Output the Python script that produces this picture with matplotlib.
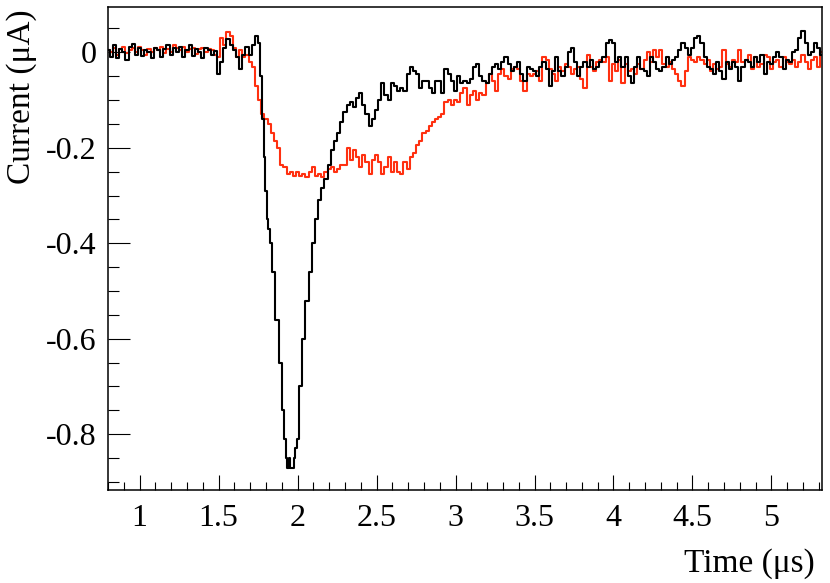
import numpy as np
import matplotlib
matplotlib.use("Agg")
import matplotlib.pyplot as plt
from matplotlib.ticker import MultipleLocator, FuncFormatter

# ---------------- data ----------------
# black trace: time grid pieces (us) and current (uA)
black_t_pre = np.round(np.arange(0.80, 1.761, 0.02), 2)
black_v_pre = [0.005, -0.01, 0.015, -0.012, 0.008, 0.0, -0.015, 0.012, 0.018, -0.005,
               0.01, -0.008, 0.005, 0.0, -0.012, 0.01, 0.005, -0.01, 0.008, 0.015,
               -0.005, 0.01, 0.0, 0.012, -0.01, 0.005, 0.015, -0.008, 0.008, 0.0,
               -0.012, 0.01, 0.005, -0.005, 0.002,
               -0.045, -0.02, 0.01, 0.028, 0.015, 0.005, -0.01, -0.035, -0.005, 0.012,
               -0.005, 0.015, 0.035, 0.02]
black_t_dip = [1.77, 1.78, 1.79, 1.80, 1.81, 1.82, 1.83, 1.85, 1.87, 1.89,
               1.91, 1.92, 1.93, 1.94, 1.95, 1.96, 1.97, 1.98, 1.99]
black_v_dip = [-0.05, -0.14, -0.22, -0.29, -0.35, -0.37, -0.40, -0.46, -0.56, -0.65,
               -0.75, -0.81, -0.85, -0.87, -0.85, -0.87, -0.87, -0.85, -0.83]
black_t_post = np.round(np.arange(2.00, 5.321, 0.02), 2)
black_v_post = [-0.81, -0.70, -0.60, -0.52, -0.46, -0.40, -0.35, -0.31, -0.285, -0.265,
                -0.235, -0.205, -0.185, -0.17, -0.145, -0.125, -0.11, -0.105, -0.115, -0.095,
                -0.085, -0.11, -0.13, -0.155, -0.14, -0.12, -0.10, -0.065, -0.09, -0.10,
                -0.065, -0.07, -0.08, -0.075, -0.08, -0.045, -0.03, -0.04, -0.045, -0.075,
                -0.06, -0.06, -0.075, -0.085, -0.06, -0.06, -0.085, -0.035, -0.045, -0.06,
                -0.08, -0.05, -0.065, -0.06, -0.065, -0.055, -0.03, -0.025, -0.05, -0.06,
                -0.065, -0.045, -0.03, -0.025, -0.035, -0.02, -0.01, -0.025, -0.04, -0.03,
                -0.02, -0.045, -0.06, -0.03, -0.035, -0.04, -0.05, -0.03, -0.02, -0.035,
                -0.07, -0.04, -0.01, -0.04, -0.05, -0.03, 0.0, 0.01, -0.02, -0.05,
                -0.03, -0.02, -0.03, -0.015, -0.035, -0.03, -0.02, -0.01, 0.02, 0.025,
                0.02, -0.02, -0.01, -0.03, -0.01, -0.05, -0.065, -0.03, -0.01, -0.035,
                -0.04, -0.05, -0.01, -0.02, -0.035, -0.04, -0.03, -0.01, -0.025, -0.015,
                -0.01, 0.005, 0.02, 0.01, -0.005, 0.01, 0.03, 0.035, 0.02, -0.01,
                -0.03, -0.035, -0.045, -0.02, -0.04, -0.055, -0.02, -0.035, -0.02, -0.03,
                -0.06, -0.03, -0.015, -0.02, -0.03, -0.01, -0.02, -0.005, -0.045, -0.02,
                -0.025, -0.01, 0.0, -0.01, -0.035, -0.015, -0.02, 0.0, 0.005, 0.03,
                0.045, 0.02, -0.005, 0.0, 0.02, 0.01, -0.005]

# red trace
red_t = np.round(np.arange(0.80, 5.321, 0.02), 2)
red_v = [0.005, 0.0, 0.01, -0.005, 0.008, 0.012, -0.002, 0.005, 0.01, 0.0,
         0.012, 0.005, -0.005, 0.008, 0.0, 0.01, 0.005, 0.012, -0.002, 0.008,
         0.0, 0.015, 0.01, 0.005, 0.012, 0.0, 0.008, 0.01, -0.003, 0.006,
         0.01, 0.0, 0.008, 0.004, -0.005,
         -0.01, 0.03, 0.015, 0.042, 0.035, 0.01, -0.01, 0.005, -0.01, -0.005,
         -0.02, -0.03, -0.07, -0.10, -0.13, -0.14, -0.15, -0.17, -0.185, -0.20,
         -0.235, -0.24, -0.255, -0.25, -0.26, -0.25, -0.26, -0.255, -0.262, -0.25,
         -0.24, -0.26, -0.255, -0.262, -0.25, -0.245, -0.24, -0.25, -0.245, -0.235,
         -0.235, -0.2, -0.225, -0.205, -0.22, -0.24, -0.215, -0.23, -0.255, -0.225,
         -0.215, -0.23, -0.255, -0.24, -0.22, -0.25, -0.23, -0.25, -0.255, -0.23,
         -0.245, -0.22, -0.21, -0.195, -0.185, -0.17, -0.165, -0.155, -0.145, -0.14,
         -0.135, -0.13, -0.105, -0.10, -0.11, -0.10, -0.105, -0.085, -0.075, -0.11,
         -0.09, -0.08, -0.10, -0.085, -0.09, -0.065, -0.045, -0.06, -0.08, -0.045,
         -0.035, -0.05, -0.055, -0.035, -0.03, -0.035, -0.06, -0.08, -0.045, -0.05,
         -0.045, -0.04, -0.06, -0.01, -0.015, -0.035, -0.045, -0.06, -0.03, -0.04,
         -0.025, -0.03, -0.045, -0.035, -0.03, -0.055, -0.075, -0.005, -0.03, -0.04,
         -0.02, -0.015, -0.02, -0.01, -0.06, -0.025, -0.04, -0.015, -0.065, -0.025,
         -0.04, -0.035, -0.045, -0.025, -0.035, -0.015, 0.0, -0.02, 0.005, -0.01,
         0.005, -0.025, -0.03, -0.02, -0.035, -0.045, -0.06, -0.07, -0.04, -0.01,
         -0.015, -0.02, -0.01, -0.015, -0.025, -0.015, -0.04, -0.025, -0.035, -0.03,
         0.005, -0.025, -0.03, -0.015, -0.02, 0.005, -0.02, -0.015, -0.005, -0.035,
         -0.01, -0.03, -0.025, -0.005, -0.01, -0.035, -0.02, -0.015, -0.03, -0.01,
         -0.02, -0.025, -0.015, -0.03, -0.02, -0.005, -0.02, -0.035, -0.015, -0.01,
         -0.03, 0.0]

x_label = "Time (μs)"
y_label = "Current (μA)"

# ---------------- plot ----------------
plt.rcParams['font.family'] = ['Liberation Serif', 'DejaVu Serif']
plt.rcParams['axes.unicode_minus'] = False

fig = plt.figure(figsize=(8.30, 5.83), dpi=100)
ax = fig.add_axes([108/830, (583-490)/583, (822-108)/830, (490-7)/583])

black_t = np.concatenate([black_t_pre, black_t_dip, black_t_post])
black_v = np.concatenate([black_v_pre, black_v_dip, black_v_post])

ax.plot(red_t, red_v, color='#ff3010', lw=1.5, drawstyle='steps-mid', zorder=2)
ax.plot(black_t, black_v, color='black', lw=1.5, drawstyle='steps-mid', zorder=3)

ax.set_xlim(0.8, 5.32)
ax.set_ylim(-0.917, 0.095)

ax.xaxis.set_major_locator(MultipleLocator(0.5))
ax.xaxis.set_minor_locator(MultipleLocator(0.1))
ax.yaxis.set_major_locator(MultipleLocator(0.2))
ax.yaxis.set_minor_locator(MultipleLocator(0.05))
fmt = FuncFormatter(lambda v, p: ('%g' % round(v, 3)) if abs(v) > 1e-9 else '0')
ax.xaxis.set_major_formatter(fmt)
ax.yaxis.set_major_formatter(fmt)

ax.tick_params(axis='y', which='major', direction='in', length=16, width=0.8,
               labelsize=23, pad=8, right=False)
ax.tick_params(axis='y', which='minor', direction='in', length=8, width=0.8, right=False)
ax.tick_params(axis='x', which='major', direction='in', length=10.5, width=0.8,
               labelsize=23, pad=10, top=False)
ax.tick_params(axis='x', which='minor', direction='in', length=5.5, width=0.8, top=False)

for s in ax.spines.values():
    s.set_linewidth(1.1)

ax.set_xlabel(x_label, fontsize=24, loc='right')
ax.set_ylabel(y_label, fontsize=24, loc='top')
ax.xaxis.set_label_coords(0.99, -0.12)
ax.yaxis.set_label_coords(-0.1, 0.995)

fig.savefig('out.png', dpi=100)
